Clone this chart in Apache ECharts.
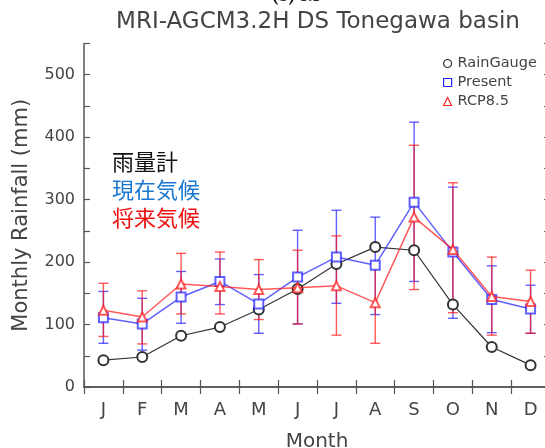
<!DOCTYPE html>
<html>
<head>
<meta charset="utf-8">
<script src="https://cdn.jsdelivr.net/npm/echarts@6/dist/echarts.min.js"></script>
<style>
  html, body { margin: 0; padding: 0; background: #fff; }
  #chart { width: 545px; height: 448px; }
</style>
</head>
<body>
<div id="chart"></div>
<script>
// Monthly rainfall, Tonegawa basin (mm)
const months = ['J', 'F', 'M', 'A', 'M', 'J', 'J', 'A', 'S', 'O', 'N', 'D'];
const yTicks = [0, 100, 200, 300, 400, 500];

const rainGauge   = [43, 48, 82, 96, 124, 157, 197, 224, 219, 132, 64, 35];

const present     = [111, 101, 144, 169, 133, 176, 208, 195, 296, 216, 140, 125];
const presentLow  = [70, 59, 102, 132, 86, 101, 134, 116, 169, 110, 87, 86];
const presentHigh = [153, 142, 185, 205, 180, 251, 283, 272, 424, 320, 194, 163];

const rcp         = [123, 112, 165, 161, 156, 159, 162, 135, 272, 220, 145, 137];
const rcpLow      = [81, 69, 117, 117, 108, 101, 83, 70, 156, 119, 83, 86];
const rcpHigh     = [166, 154, 214, 216, 204, 219, 242, 198, 387, 327, 208, 187];

const BLUE = 'rgba(30,30,255,0.7)';
const RED = 'rgba(255,20,20,0.7)';
const AXIS = '#555';
const TXT = '#444';
const FONT = 'DejaVu Sans';

function errorData(low, high) {
  return low.map((v, i) => [i, v, high[i]]);
}

function errorRenderer(color) {
  return function (params, api) {
    const x = api.value(0);
    const lo = api.coord([x, api.value(1)]);
    const hi = api.coord([x, api.value(2)]);
    const cap = 5;
    const style = { stroke: color, lineWidth: 1.4, fill: null };
    return {
      type: 'group',
      children: [
        { type: 'line', shape: { x1: lo[0], y1: lo[1], x2: hi[0], y2: hi[1] }, style },
        { type: 'line', shape: { x1: lo[0] - cap, y1: lo[1], x2: lo[0] + cap, y2: lo[1] }, style },
        { type: 'line', shape: { x1: hi[0] - cap, y1: hi[1], x2: hi[0] + cap, y2: hi[1] }, style }
      ]
    };
  };
}

const chart = echarts.init(document.getElementById('chart'), null, { renderer: 'canvas' });

const baseX = {
  type: 'category',
  data: months,
  boundaryGap: true,
  axisLine: { show: true, lineStyle: { color: AXIS, width: 1.5 } },
  axisTick: { show: true, inside: true, length: 7, alignWithLabel: false, lineStyle: { color: AXIS, width: 1.2 } },
  splitLine: { show: false }
};

const baseY = {
  type: 'value',
  min: 0,
  max: 550,
  interval: 50,
  axisLine: { show: true, lineStyle: { color: AXIS, width: 1.5 } },
  axisTick: { show: true, inside: true, length: 6, lineStyle: { color: AXIS, width: 1.2 } },
  splitLine: { show: false }
};

const jpFont = '22px "Noto Sans CJK JP"';

chart.setOption({
  animation: false,
  backgroundColor: '#fff',
  grid: { left: 84, top: 43.5, width: 466, bottom: 61, containLabel: false, outerBoundsMode: 'none' },
  graphic: [
    {
      type: 'text', x: 297, y: -13,
      style: { text: '(b) 8.5', font: 'bold 18px "Liberation Serif"', fill: '#222', textAlign: 'center' }
    },
    {
      type: 'text', x: 318, y: 22,
      style: { text: 'MRI-AGCM3.2H DS Tonegawa basin', font: '23px "' + FONT + '"', fill: TXT,
               textAlign: 'center', textVerticalAlign: 'middle' }
    },
    {
      type: 'text', x: 112, y: 162,
      style: { text: '雨量計', font: jpFont, fill: '#111', textVerticalAlign: 'middle' }
    },
    {
      type: 'text', x: 112, y: 190,
      style: { text: '現在気候', font: jpFont, fill: '#1b78cf', textVerticalAlign: 'middle' }
    },
    {
      type: 'text', x: 112, y: 218,
      style: { text: '将来気候', font: jpFont, fill: '#f01010', textVerticalAlign: 'middle' }
    }
  ],
  legend: {
    orient: 'vertical',
    left: 438,
    top: 51,
    itemWidth: 8,
    itemHeight: 8,
    itemGap: 4,
    textStyle: { fontFamily: FONT, fontSize: 14.5, color: TXT, padding: [0, 0, 0, 1] },
    data: [
      { name: 'RainGauge', icon: 'circle', itemStyle: { color: '#fff', borderColor: '#333', borderWidth: 1.2 } },
      { name: 'Present', icon: 'rect', itemStyle: { color: '#fff', borderColor: 'rgb(40,40,255)', borderWidth: 1.2 } },
      { name: 'RCP8.5', icon: 'triangle', itemStyle: { color: '#fff', borderColor: 'rgb(255,40,40)', borderWidth: 1.2 } }
    ]
  },
  xAxis: [
    Object.assign({}, baseX, {
      position: 'bottom',
      name: 'Month',
      nameLocation: 'middle',
      nameGap: 45,
      nameTextStyle: { fontFamily: FONT, fontSize: 20, color: TXT },
      axisLabel: { show: true, fontFamily: FONT, fontSize: 18, color: TXT, margin: 14 }
    }),
    Object.assign({}, baseX, { position: 'top', axisLabel: { show: false } })
  ],
  yAxis: [
    Object.assign({}, baseY, {
      position: 'left',
      name: 'Monthly Rainfall (mm)',
      nameLocation: 'middle',
      nameGap: 52,
      nameTextStyle: { fontFamily: FONT, fontSize: 21, color: TXT },
      axisLabel: {
        show: true, fontFamily: FONT, fontSize: 16, color: TXT, margin: 9,
        formatter: v => (yTicks.indexOf(v) >= 0 ? String(v) : '')
      }
    }),
    Object.assign({}, baseY, { position: 'right', axisLabel: { show: false } })
  ],
  series: [
    {
      name: 'Present-error',
      type: 'custom',
      renderItem: errorRenderer(BLUE),
      data: errorData(presentLow, presentHigh),
      z: 2
    },
    {
      name: 'RCP8.5-error',
      type: 'custom',
      renderItem: errorRenderer(RED),
      data: errorData(rcpLow, rcpHigh),
      z: 2
    },
    {
      name: 'RainGauge',
      type: 'line',
      data: rainGauge,
      symbol: 'emptyCircle',
      symbolSize: 10,
      lineStyle: { color: '#333', width: 1.2 },
      itemStyle: { color: '#333', borderWidth: 1.2 },
      z: 3
    },
    {
      name: 'Present',
      type: 'line',
      data: present,
      symbol: 'emptyRect',
      symbolSize: 9,
      lineStyle: { color: BLUE, width: 1.5 },
      itemStyle: { color: BLUE, borderWidth: 1.3 },
      z: 4
    },
    {
      name: 'RCP8.5',
      type: 'line',
      data: rcp,
      symbol: 'emptyTriangle',
      symbolSize: 9,
      lineStyle: { color: RED, width: 1.5 },
      itemStyle: { color: RED, borderWidth: 1.3 },
      z: 5
    }
  ]
});
</script>
</body>
</html>
